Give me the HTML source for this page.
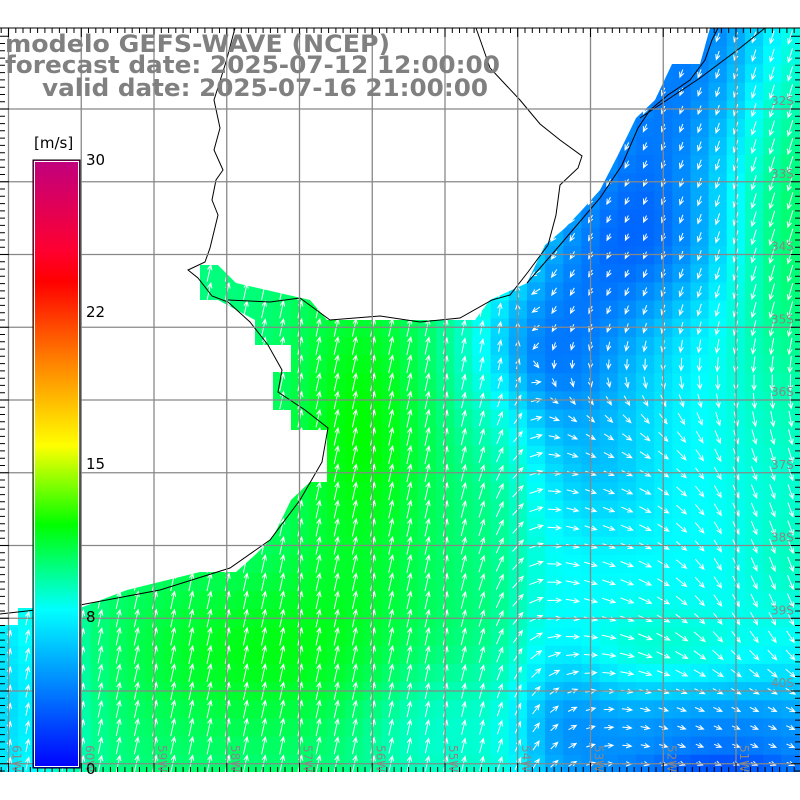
<!DOCTYPE html>
<html><head><meta charset="utf-8"><style>
html,body{margin:0;padding:0;background:#fff;width:800px;height:800px;overflow:hidden}
svg{display:block}
</style></head><body>
<svg id="s" width="800" height="800" xmlns="http://www.w3.org/2000/svg">
<defs>
<linearGradient id="cb" x1="0" y1="0" x2="0" y2="1">
<stop offset="0" stop-color="#c0007f"/>
<stop offset="0.15" stop-color="#ff0030"/>
<stop offset="0.2" stop-color="#ff0000"/>
<stop offset="0.33" stop-color="#ff8000"/>
<stop offset="0.47" stop-color="#ffff00"/>
<stop offset="0.6" stop-color="#00ff00"/>
<stop offset="0.74" stop-color="#00ffff"/>
<stop offset="1" stop-color="#0000ff"/>
</linearGradient>
</defs>
<g id="cells"></g>
<g id="arrows" stroke="#fff" stroke-width="1" fill="none"></g>
<path id="land" fill="#fff" d="M0,28 L710,28 L700,64 L672,64 L655,100 L636,118 L618,155 L600,190 L582,210 L565,228 L545,245 L527,283 L490,300 L475,320 L327,320 L310,300 L236,283 L218,265 L200,265 L200,300 L218,300 L255,320 L255,345 L291,345 L291,372 L273,372 L273,410 L291,410 L291,430 L327,430 L327,482 L310,482 L291,500 L273,537 L255,555 L236,572 L200,572 L127,590 L80,608 L18,608 L18,625 L0,625 Z"/>
<g stroke="#000" stroke-width="1" fill="none">
<path d="M0,614 L80,605 L160,590 L230,568 L270,540 L300,500 L322,462 L328,428 L305,410 L278,392 L282,370 L268,345 L250,322 L228,302 L212,296 L198,278 L188,270 L205,262 L210,248 L218,215 L212,200 L216,180 L223,170 L214,150 L220,128 L214,100 L226,62 L235,28"/>
<path d="M228,300 L270,302 L300,298 L330,320 L380,316 L420,322 L460,318 L492,300 L510,295 L528,272 L548,245 L556,215 L560,185 L578,168 L582,156 L560,140 L540,124 L520,100 L505,84 L490,68 L482,45 L476,28"/>
<path d="M527,283 L560,245 L600,198 L622,165 L638,128 L650,110 L668,95 L690,80 L705,60 L712,40 L718,28"/>
<path d="M640,118 L700,78 L740,48 L765,28"/>
</g>
<g id="grid" stroke="#888" stroke-width="1.3"></g>
<g id="ticks" stroke="#000" stroke-width="1"></g>
<line x1="0" y1="28" x2="800" y2="28" stroke="#000"/>
<g id="labs" fill="#888" font-family="'DejaVu Sans',sans-serif" font-size="12"></g>
<rect x="33" y="160" width="47" height="608" fill="url(#cb)" stroke="#000" stroke-width="1"/>
<rect x="34.5" y="161.5" width="44" height="605" fill="none" stroke="#fff" stroke-width="1"/>
<g font-family="'DejaVu Sans',sans-serif" font-size="15" fill="#000">
<text x="34" y="148">[m/s]</text>
<text x="86" y="165">30</text>
<text x="86" y="317">22</text>
<text x="86" y="469">15</text>
<text x="86" y="622">8</text>
<text x="86" y="774">0</text>
</g>
<g font-family="'DejaVu Sans',sans-serif" font-weight="bold" font-size="24" fill="#808080">
<text x="5" y="52" textLength="385" lengthAdjust="spacingAndGlyphs">modelo GEFS-WAVE (NCEP)</text>
<text x="5" y="73" textLength="495" lengthAdjust="spacingAndGlyphs">forecast date: 2025-07-12 12:00:00</text>
<text x="42" y="96" textLength="446" lengthAdjust="spacingAndGlyphs">valid date: 2025-07-16 21:00:00</text>
</g>
</svg>
<script>
(function(){
var NS="http://www.w3.org/2000/svg";
function el(t,a,p){var e=document.createElementNS(NS,t);for(var k in a)e.setAttribute(k,a[k]);p.appendChild(e);return e;}
function g(x,y,cx,cy,sx,sy){var dx=(x-cx)/sx,dy=(y-cy)/sy;return Math.exp(-0.5*(dx*dx+dy*dy));}
function sig(t){return 1/(1+Math.exp(-t));}
function segd(x,y,ax,ay,bx,by){var vx=bx-ax,vy=by-ay,t=((x-ax)*vx+(y-ay)*vy)/(vx*vx+vy*vy);t=Math.max(0,Math.min(1,t));var px=ax+t*vx-x,py=ay+t*vy-y;return Math.sqrt(px*px+py*py);}
var stops=[[0,[0,0,255]],[4,[0,128,255]],[8,[0,255,255]],[10,[0,255,170]],[13,[0,255,0]],[16,[255,255,0]],[21,[255,0,0]],[30,[192,0,127]]];
function cmap(s){s=Math.max(0,Math.min(30,s));for(var i=0;i<stops.length-1;i++){if(s<=stops[i+1][0]){var t=(s-stops[i][0])/(stops[i+1][0]-stops[i][0]),a=stops[i][1],b=stops[i+1][1];return "rgb("+[0,1,2].map(function(k){return Math.round(a[k]+(b[k]-a[k])*t)}).join(",")+")";}}return "rgb(192,0,127)";}
function speed(x,y){
 var s=10.8;
 s+=2.2*g(x,y,360,430,50,110);
 s+=1.8*g(x,y,260,650,110,60);
 s-=2.8*sig((x-525)/15);
 var d=segd(x,y,700,40,560,360);
 s-=4.2*Math.exp(-0.5*(d/60)*(d/60));
 s-=1.5*g(x,y,680,250,45,45);
 s-=1.5*g(x,y,510,330,30,40);
 s+=3.2*g(x,y,790,220,45,170)*sig((x-520)/18);
 s+=1.5*g(x,y,660,650,60,30);
 s+=1.0*g(x,y,790,560,30,40);
 s-=4*g(x,y,730,740,130,45);
 s-=2.5*g(x,y,720,775,80,15);
 s-=4*g(x,y,0,700,50,120);
 s-=1.8*g(x,y,560,720,40,60);
 s-=1.5*g(x,y,430,730,50,50);
 s-=1.4*g(x,y,600,480,40,40);
 return s;
}
function dir(x,y){
 var left=[0.22,1];
 var coast=[-0.6,-1],south=[-0.3,-1],east=[1,-0.35],sse=[0.35,-1],ne=[0.7,0.7],ese=[1,-0.4];
 var wr=sig((x-530)/20);
 var wTop=sig((390-y)/30);
 var wFar=sig((x-690)/25);
 var top=[coast[0]*sig((640-x)/40)+south[0]*(1-sig((640-x)/40)),-1];
 var mid=[east[0]*(1-wFar)+sse[0]*wFar,east[1]*(1-wFar)+sse[1]*wFar];
 var wBot=sig((y-660)/25);
 var bot=[ne[0]*sig((600-x)/30)+ese[0]*(1-sig((600-x)/30)),ne[1]*sig((600-x)/30)+ese[1]*(1-sig((600-x)/30))];
 var r=[top[0]*wTop+mid[0]*(1-wTop),top[1]*wTop+mid[1]*(1-wTop)];
 r=[r[0]*(1-wBot)+bot[0]*wBot,r[1]*(1-wBot)+bot[1]*wBot];
 var u=left[0]*(1-wr)+r[0]*wr,v=left[1]*(1-wr)+r[1]*wr;
 var n=Math.sqrt(u*u+v*v)||1;return [u/n,v/n];
}
var W=18.17,cells=document.getElementById("cells"),arr=document.getElementById("arrows");
var pa="";
for(var i=0;i<45;i++){for(var j=0;j<41;j++){
 var x=i*W,y=28+j*W,cx=x+W/2,cy=y+W/2;
 var s=speed(cx,cy);
 el("rect",{x:x.toFixed(2),y:y.toFixed(2),width:(W+0.6).toFixed(2),height:(W+0.6).toFixed(2),fill:cmap(s)},cells);
 var d=dir(cx,cy),L=Math.max(5,Math.min(18,3+s*1.3));
 var tx=cx+d[0]*L/2,ty=cy-d[1]*L/2,bx=cx-d[0]*L/2,by=cy+d[1]*L/2;
 var a=Math.atan2(-d[1],d[0]),h=5.5;
 var h1x=tx-h*Math.cos(a-0.42),h1y=ty-h*Math.sin(a-0.42),h2x=tx-h*Math.cos(a+0.42),h2y=ty-h*Math.sin(a+0.42);
 pa+="M"+bx.toFixed(1)+","+by.toFixed(1)+"L"+tx.toFixed(1)+","+ty.toFixed(1)+"M"+h1x.toFixed(1)+","+h1y.toFixed(1)+"L"+tx.toFixed(1)+","+ty.toFixed(1)+"L"+h2x.toFixed(1)+","+h2y.toFixed(1);
}}
el("path",{d:pa},arr);
el("rect",{x:0,y:772,width:800,height:28,fill:"#fff"},cells);
var grid=document.getElementById("grid"),ticks=document.getElementById("ticks"),labs=document.getElementById("labs");
var gx=[],gy=[];
for(var k=0;k<11;k++)gx.push(8.5+72.75*k);
for(var k=0;k<10;k++)gy.push(109+72.75*k);
gx.forEach(function(x){el("line",{x1:x,y1:28,x2:x,y2:772},grid);});
gy.forEach(function(y){el("line",{x1:0,y1:y,x2:800,y2:y},grid);});
var tp="";
for(var x=8.5-72.75;x<800;x+=7.275){var big=Math.abs(((x-8.5)/72.75)-Math.round((x-8.5)/72.75))<0.01;var l=big?9:5;tp+="M"+x.toFixed(1)+",28v"+l+"M"+x.toFixed(1)+",772v-"+l;}
for(var y=109-72.75;y<772;y+=7.275){if(y<28)continue;var big=Math.abs(((y-109)/72.75)-Math.round((y-109)/72.75))<0.01;var l=big?9:5;tp+="M0,"+y.toFixed(1)+"h"+l+"M800,"+y.toFixed(1)+"h-"+l;}
el("path",{d:tp},ticks);
var lon=["61W","60W","59W","58W","57W","56W","55W","54W","53W","52W","51W"];
gx.forEach(function(x,k){var t=el("text",{transform:"translate("+(x+4)+",745) rotate(90)"},labs);t.textContent=lon[k];});
for(var k=0;k<9;k++){var t=el("text",{x:771,y:(gy[k]-4).toFixed(1)},labs);t.textContent=(32+k)+"S";}
})();
</script>
</body></html>
